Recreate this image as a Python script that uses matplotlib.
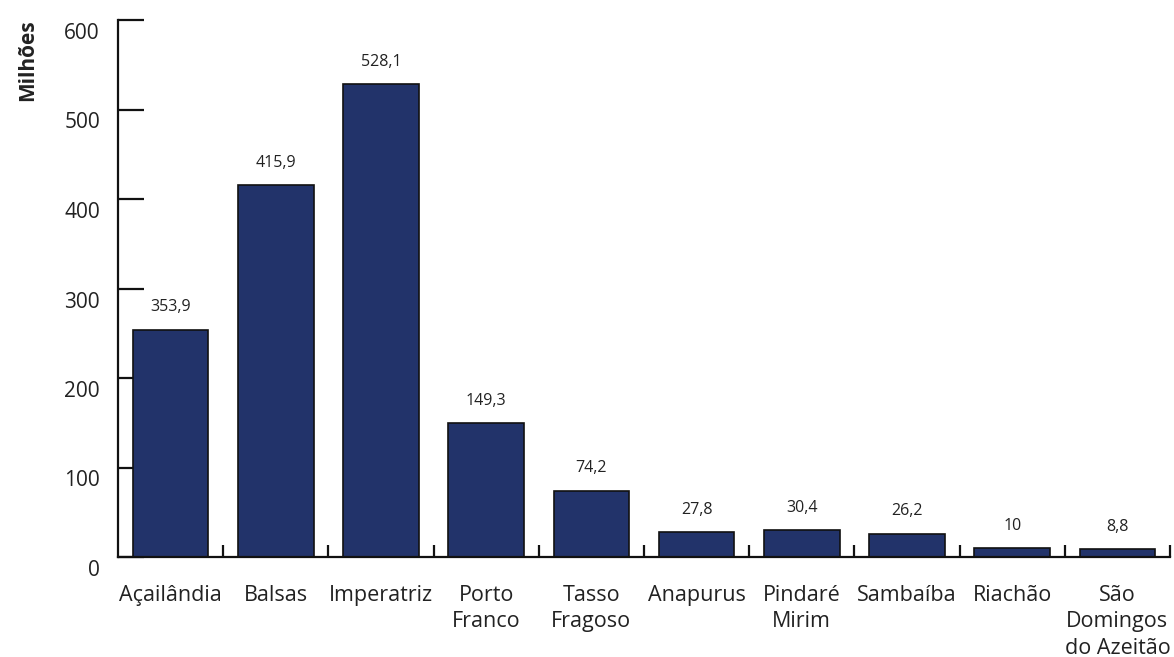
import matplotlib
matplotlib.use("Agg")
import matplotlib.pyplot as plt
import matplotlib.transforms as mtransforms
import numpy as np

plt.rcParams['font.family'] = ['Open Sans', 'DejaVu Sans']

cidades = ["Açailândia", "Balsas", "Imperatriz", "Porto\nFranco", "Tasso\nFragoso",
           "Anapurus", "Pindaré\nMirim", "Sambaíba", "Riachão", "São\nDomingos\ndo Azeitão"]
# drawn heights as they appear in the picture (first bar is drawn shorter than its label)
alturas = [254, 415.9, 528.1, 149.3, 74.2, 27.8, 30.4, 26.2, 10, 8.8]
rotulos = ["353,9", "415,9", "528,1", "149,3", "74,2", "27,8", "30,4", "26,2", "10", "8,8"]
yticks = [0, 100, 200, 300, 400, 500, 600]

fig = plt.figure(figsize=(11.74, 6.57), dpi=100)
ax = fig.add_axes([118/1174, 100/657, 1052/1174, 537/657])

x = np.arange(len(cidades))
ax.bar(x, alturas, width=0.72, color="#22336a", edgecolor="#111111", linewidth=1.2, zorder=2)

for xi, h, r in zip(x, alturas, rotulos):
    ax.annotate(r, (xi, h), xytext=(0, 16), textcoords="offset points",
                ha="center", va="center", fontsize=11.5, color="#222222")

ax.set_xlim(-0.5, len(cidades) - 0.5)
ax.set_ylim(0, 600)

for s in ["top", "right"]:
    ax.spines[s].set_visible(False)
for s in ["left", "bottom"]:
    ax.spines[s].set_linewidth(1.6)
    ax.spines[s].set_color("#111111")

ax.set_yticks(yticks)
ax.set_yticklabels([str(v) for v in yticks], fontsize=15, color="#222222")
ax.tick_params(axis="y", direction="in", length=19, width=1.6, pad=13, colors="#111111",
               labelcolor="#222222")
off = mtransforms.ScaledTranslation(0, -11/100, fig.dpi_scale_trans)
for lab in ax.get_yticklabels():
    lab.set_transform(lab.get_transform() + off)

ax.set_xticks(x)
ax.set_xticklabels(cidades, fontsize=15.5, color="#222222", linespacing=1.35, va="top")
ax.tick_params(axis="x", length=0, pad=20)
ax.set_xticks(np.arange(0.5, len(cidades), 1.0), minor=True)
ax.tick_params(axis="x", which="minor", direction="in", length=9, width=1.6, colors="#111111")

fig.text(28/1174, 1 - 60/657, "Milhões", rotation=90, fontsize=15, fontweight="bold",
         ha="center", va="center", color="#222222")

fig.savefig("out.png", dpi=100)
